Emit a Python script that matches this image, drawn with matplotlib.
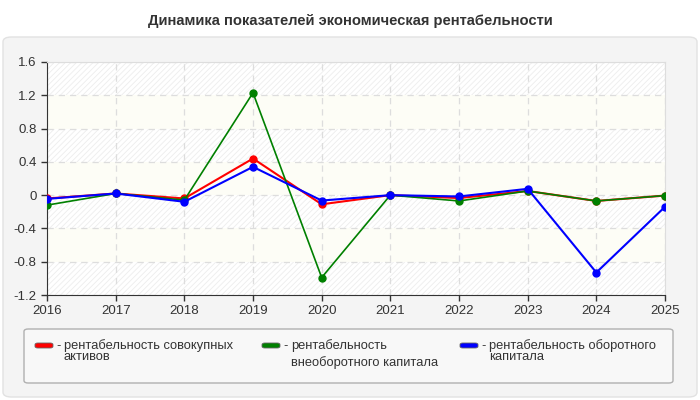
import matplotlib.pyplot as plt
from matplotlib.patches import FancyBboxPatch

plt.rcParams['font.family'] = ['Liberation Sans', 'DejaVu Sans']
plt.rcParams['hatch.linewidth'] = 0.6

years = [2016, 2017, 2018, 2019, 2020, 2021, 2022, 2023, 2024, 2025]
total_assets = [-0.04, 0.02, -0.04, 0.44, -0.11, 0.0, -0.035, 0.05, -0.07, -0.005]
noncurrent = [-0.12, 0.02, -0.06, 1.23, -0.99, 0.0, -0.07, 0.05, -0.07, -0.005]
working = [-0.045, 0.02, -0.08, 0.34, -0.065, 0.0, -0.016, 0.076, -0.93, -0.14]
labels = ['рентабельность совокупных\nактивов',
          'рентабельность\nвнеоборотного капитала',
          'рентабельность оборотного\nкапитала']
colors = ['#ff0000', '#008000', '#0000ff']
yticks = [-1.2, -0.8, -0.4, 0, 0.4, 0.8, 1.2, 1.6]
ytick_labels = ['-1.2', '-0.8', '-0.4', '0', '0.4', '0.8', '1.2', '1.6']

fig = plt.figure(figsize=(7, 4), dpi=100)
fig.patch.set_facecolor('white')

# серая подложка
panel = FancyBboxPatch((3 / 700, 3 / 400), 694 / 700, 360 / 400,
                       boxstyle='round,pad=0,rounding_size=0.012',
                       transform=fig.transFigure, facecolor='#f4f4f4',
                       edgecolor='#e2e2e2', linewidth=1, zorder=-5)
fig.patches.append(panel)

fig.text(0.5, 1 - 20.5 / 400, 'Динамика показателей экономическая рентабельности',
         ha='center', va='center', fontsize=10.6, fontweight='bold', color='#333333')

ax = fig.add_axes([47 / 700, 1 - 295 / 400, 618 / 700, 233 / 400])
ax.set_facecolor('white')

# полосы фона
for i in range(len(yticks) - 1):
    lo, hi = yticks[i], yticks[i + 1]
    if i % 2 == 0:
        ax.axhspan(lo, hi, facecolor='white', hatch='//////', edgecolor='#ededed',
                   linewidth=0, zorder=0)
    else:
        ax.axhspan(lo, hi, facecolor='#fdfdf6', linewidth=0, zorder=0)

for vals, c in zip([total_assets, noncurrent, working], colors):
    lw = 1.2 if c == '#008000' else 1.5
    ax.plot(years, vals, color=c, lw=lw, marker='o', markersize=5, zorder=3)

ax.set_xlim(years[0], years[-1])
ax.set_ylim(-1.2, 1.6)
ax.set_xticks(years)
ax.set_yticks(yticks)
ax.set_yticklabels(ytick_labels)
ax.grid(True, color='#dddddd', linestyle=(0, (5, 4)), linewidth=0.9, zorder=1)
ax.set_axisbelow(True)
ax.tick_params(labelsize=9.5, colors='#333333', length=4, width=1, direction='out')
for s in ['top', 'right']:
    ax.spines[s].set_color('#dddddd')
for s in ['left', 'bottom']:
    ax.spines[s].set_color('#333333')

# легенда
leg = FancyBboxPatch((24 / 700, 1 - 383 / 400), 649 / 700, 54 / 400,
                     boxstyle='round,pad=0,rounding_size=0.006',
                     transform=fig.transFigure, facecolor='#f8f8f8',
                     edgecolor='#b0b0b0', linewidth=1, zorder=1)
fig.patches.append(leg)
xs = [35, 262, 460]
spacing = [0.95, 1.45, 0.95]
for x, lab, c, ls in zip(xs, labels, colors, spacing):
    sw = FancyBboxPatch((x / 700, 1 - 348 / 400), 18 / 700, 5 / 400,
                        boxstyle='round,pad=0,rounding_size=0.004',
                        transform=fig.transFigure, facecolor=c,
                        edgecolor='#666666', linewidth=0.6, zorder=2)
    fig.patches.append(sw)
    fig.text((x + 21) / 700, 1 - 346 / 400, '-', fontsize=9.3, color='#333333',
             va='center', ha='left')
    fig.text((x + 29) / 700, 1 - 339 / 400, lab, fontsize=9.3, color='#333333',
             va='top', ha='left', linespacing=ls)

fig.savefig('out.png', dpi=100)
